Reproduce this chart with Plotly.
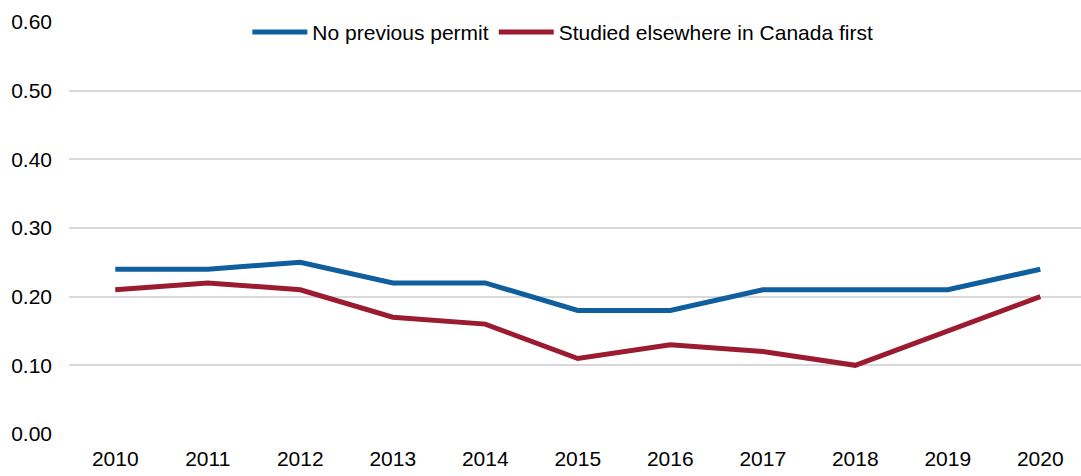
import plotly.graph_objects as go

years = [2010, 2011, 2012, 2013, 2014, 2015, 2016, 2017, 2018, 2019, 2020]
no_previous_permit = [0.24, 0.24, 0.25, 0.22, 0.22, 0.18, 0.18, 0.21, 0.21, 0.21, 0.24]
studied_elsewhere = [0.21, 0.22, 0.21, 0.17, 0.16, 0.11, 0.13, 0.12, 0.10, 0.15, 0.20]
y_ticks = [0.0, 0.1, 0.2, 0.3, 0.4, 0.5, 0.6]

FONT = "Liberation Sans Narrow, Arial Narrow, Liberation Sans, Arial"

fig = go.Figure()
fig.add_trace(go.Scatter(
    x=years, y=no_previous_permit, mode="lines", name="No previous permit",
    line=dict(color="#0f5f9e", width=5),
))
fig.add_trace(go.Scatter(
    x=years, y=studied_elsewhere, mode="lines", name="Studied elsewhere in Canada first",
    line=dict(color="#9b1c31", width=5),
))

fig.update_layout(
    width=1081, height=476,
    margin=dict(l=69, r=0, t=22, b=42),
    paper_bgcolor="white", plot_bgcolor="white",
    font=dict(family=FONT, size=21, color="#000000"),
    legend=dict(
        orientation="h", x=0.488, xanchor="center", y=0.975, yanchor="middle",
        font=dict(family=FONT, size=21), bgcolor="rgba(0,0,0,0)",
        itemwidth=55, tracegroupgap=0,
    ),
    xaxis=dict(
        range=[2009.5, 2020.44], tickmode="array", tickvals=years,
        ticktext=[str(y) for y in years], showgrid=False, zeroline=False,
        showline=False, ticks="", ticklabelstandoff=10, automargin=False,
    ),
    yaxis=dict(
        range=[0, 0.6], tickmode="array", tickvals=y_ticks,
        ticktext=["%.2f" % v for v in y_ticks],
        showgrid=True, gridcolor="#d9d9d9", gridwidth=1.5, zeroline=False,
        showline=False, ticks="", ticklabelstandoff=16, automargin=False,
    ),
)

# the page's default body margin would shift the figure by 8px
fig.write_html("out.html", config={"displayModeBar": False},
               post_script="document.body.style.margin='0';")
